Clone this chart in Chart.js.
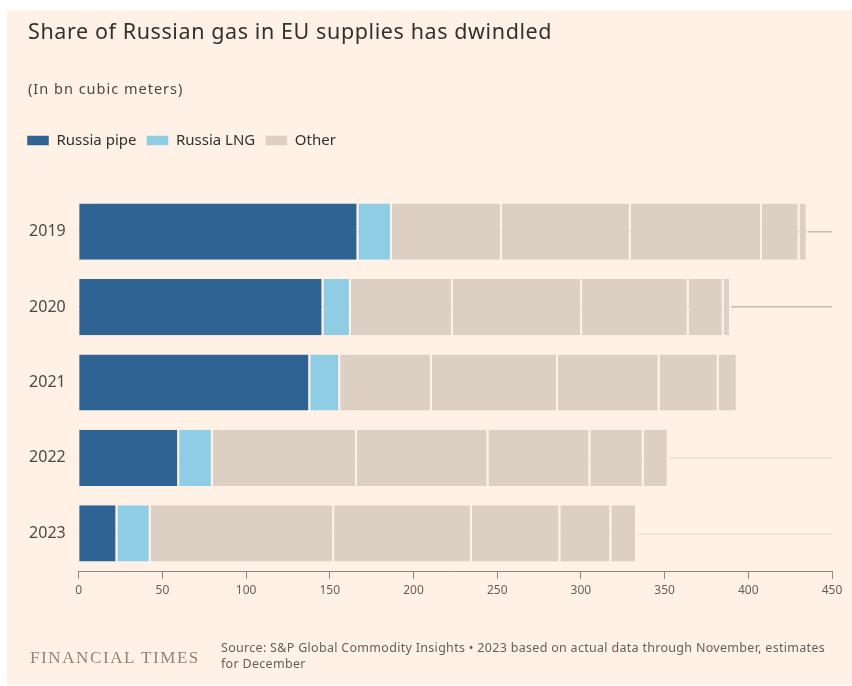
<!DOCTYPE html>
<html>
<head>
<meta charset="utf-8">
<script src="https://cdn.jsdelivr.net/npm/chart.js@4.4.1/dist/chart.umd.min.js"></script>
<style>
    html, body {
        margin: 0;
        padding: 0;
        background: #ffffff;
        width: 852px;
        height: 686px;
        overflow: hidden;
        font-family: "Noto Sans", sans-serif;
    }
    .panel {
        position: absolute;
        left: 7px;
        top: 10px;
        width: 845px;
        height: 675px;
        background: #fff1e5;
    }
    .chart-wrap {
        position: absolute;
        left: 0;
        top: 0;
        width: 852px;
        height: 686px;
    }
    .title {
        position: absolute;
        left: 28px;
        top: 16px;
        font-size: 21.5px;
        letter-spacing: 0.6px;
        color: #33302e;
        white-space: nowrap;
    }
    .subtitle {
        position: absolute;
        left: 28px;
        top: 78px;
        font-size: 14.5px;
        letter-spacing: 1px;
        color: #4d4845;
        white-space: nowrap;
    }
    .brand {
        position: absolute;
        left: 30px;
        top: 648px;
        font-family: "Liberation Serif", serif;
        font-size: 17px;
        letter-spacing: 1.6px;
        color: #8c8580;
        white-space: nowrap;
    }
    .source {
        position: absolute;
        left: 221px;
        top: 640px;
        font-size: 12.5px;
        letter-spacing: 0.3px;
        line-height: 16px;
        color: #66605c;
        white-space: nowrap;
    }
</style>
</head>
<body>
<div class="panel"></div>
<div class="chart-wrap"><canvas id="gas-chart" width="852" height="686"></canvas></div>
<div class="title">Share of Russian gas in EU supplies has dwindled</div>
<div class="subtitle">(In bn cubic meters)</div>
<div class="brand">FINANCIAL TIMES</div>
<div class="source">Source: S&amp;P Global Commodity Insights • 2023 based on actual data through November, estimates<br>for December</div>

<script>
"use strict";

// EU gas supply, bn cubic meters
const years = ['2019', '2020', '2021', '2022', '2023'];
const russiaPipe = [167.1, 146.2, 138.3, 60.0, 23.1];
const russiaLng = [20.0, 16.4, 17.9, 20.1, 19.9];

// "Other" supply is stacked as five blocks of the same colour
const otherBlock1 = [65.7, 60.9, 54.8, 86.1, 109.6];
const otherBlock2 = [77.0, 77.2, 75.3, 78.6, 82.3];
const otherBlock3 = [78.4, 63.7, 60.7, 60.8, 52.8];
const otherBlock4 = [22.4, 20.9, 35.3, 31.9, 30.5];
const otherBlock5 = [4.9, 4.4, 11.4, 14.9, 15.3];

const xTicks = [0, 50, 100, 150, 200, 250, 300, 350, 400, 450];

const PIPE = '#2e6393';
const LNG = '#8fcde5';
const OTHER = '#dccfc3';
const GAP = '#fff1e5';

// row guide lines behind the bars
const rowLineColors = ['#c6bab0', '#c6bab0', 'rgba(0,0,0,0)', '#ecdfd4', '#ecdfd4'];

function segment(label, data, color) {
    return {
        label: label,
        data: data,
        backgroundColor: color,
        borderColor: GAP,
        borderWidth: { top: 0, right: 2, bottom: 0, left: 0 },
        borderSkipped: false,
        barPercentage: 0.745,
        categoryPercentage: 1.0
    };
}

// extra room between the legend row and the bars
const legendSpacer = {
    id: 'legendSpacer',
    beforeInit(chart) {
        const fit = chart.legend.fit;
        chart.legend.fit = function() {
            fit.bind(chart.legend)();
            this.height = 71;
        };
    }
};

new Chart(document.getElementById('gas-chart').getContext('2d'), {
    type: 'bar',
    data: {
        labels: years,
        datasets: [
            segment('Russia pipe', russiaPipe, PIPE),
            segment('Russia LNG', russiaLng, LNG),
            segment('Other', otherBlock1, OTHER),
            segment('Other', otherBlock2, OTHER),
            segment('Other', otherBlock3, OTHER),
            segment('Other', otherBlock4, OTHER),
            segment('Other', otherBlock5, OTHER)
        ]
    },
    options: {
        indexAxis: 'y',
        responsive: false,
        animation: false,
        layout: {
            padding: { left: 17, right: 20, top: 123, bottom: 85 }
        },
        plugins: {
            legend: {
                position: 'top',
                align: 'start',
                labels: {
                    boxWidth: 22,
                    boxHeight: 10,
                    padding: 10,
                    color: '#33302e',
                    font: { family: 'Noto Sans', size: 15 },
                    filter: (item) => item.datasetIndex <= 2
                }
            },
            tooltip: { enabled: false }
        },
        scales: {
            x: {
                stacked: true,
                min: 0,
                max: 450,
                afterBuildTicks: (scale) => {
                    scale.ticks = xTicks.map(v => ({ value: v }));
                },
                afterFit: (scale) => {
                    scale.height = 30;
                },
                grid: {
                    drawOnChartArea: false,
                    drawTicks: true,
                    tickLength: 8,
                    color: '#8f8881'
                },
                border: { display: true, color: '#8f8881', width: 1 },
                ticks: {
                    padding: 4,
                    color: '#66605c',
                    font: { family: 'Noto Sans', size: 12 }
                }
            },
            y: {
                stacked: true,
                afterFit: (scale) => {
                    scale.width = 61.7;
                },
                grid: {
                    offset: false,
                    drawTicks: false,
                    color: (ctx) => rowLineColors[ctx.index] || 'rgba(0,0,0,0)',
                    lineWidth: 1.5
                },
                border: { display: false },
                ticks: {
                    padding: 13,
                    color: '#4d4845',
                    font: { family: 'Noto Sans', size: 16 }
                }
            }
        }
    },
    plugins: [legendSpacer]
});
</script>
</body>
</html>
